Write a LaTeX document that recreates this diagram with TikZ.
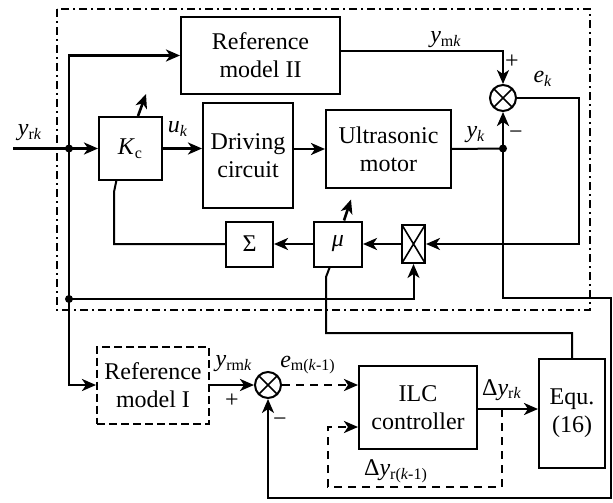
\documentclass[tikz,border=0pt]{standalone}
\usepackage{fontspec}
\setmainfont{Liberation Serif}
\usepackage{tikz}
\usetikzlibrary{positioning,arrows.meta,calc}

\newcommand{\sbs}[2]{\textit{#1}\textsubscript{#2}}

\begin{document}
\begin{tikzpicture}[x=0.5pt,y=-0.5pt,>={Stealth[length=7pt,width=6pt,inset=2pt]},
	font=\fontsize{12}{14}\selectfont,
	blk/.style={draw,line width=1pt,inner sep=0pt,align=center},
	dblk/.style={blk,dash pattern=on 4pt off 2pt},
	crossbox/.style={blk,path picture={\draw[line width=0.8pt]
		(path picture bounding box.north west)--(path picture bounding box.south east)
		(path picture bounding box.north east)--(path picture bounding box.south west);}},
	sumnode/.style={crossbox,circle,minimum size=13pt},
	wire/.style={line width=1.3pt},
	fb/.style={line width=1pt},
	lbl/.style={inner sep=0pt}]
		
		\useasboundingbox (0,0) rectangle (613,502);
		
		% Outer loop frame
		\draw[line width=0.8pt,dash pattern=on 4pt off 2pt on 1pt off 2pt] (57,9) rectangle (590,310);
		
		% Blocks
		\node[blk,minimum width=79.5pt,minimum height=38.5pt] (refII) at (260.5,55.5) {Reference\\model II};
		\node[blk,minimum width=31.5pt,minimum height=31.5pt] (kc) at (130.5,148.5) {\sbs{K}{c}};
		\node[blk,minimum width=45pt,minimum height=52.5pt] (drv) at (248,155.5) {Driving\\circuit};
		\node[blk,minimum width=62.5pt,minimum height=39pt] (usm) at (388.5,149) {Ultrasonic\\motor};
		\node[sumnode] (sum1) at (503,98) {};
		\node[blk,minimum width=23.5pt,minimum height=22.5pt] (sig) at (249.5,244) {Σ};
		\node[blk,minimum width=24pt,minimum height=22.5pt] (mu) at (338,244) {\textit{μ}};
		\node[crossbox,minimum width=11.5pt,minimum height=19pt] (xbox) at (413.5,244) {};
		\node[dblk,minimum width=56pt,minimum height=38.5pt] (refI) at (153,385) {Reference\\model I};
		\node[sumnode] (sum2) at (268,385) {};
		\node[blk,minimum width=59pt,minimum height=41.5pt] (ilc) at (418,407.5) {ILC\\controller};
		\node[blk,minimum width=33pt,minimum height=54.5pt] (equ) at (572,413.5) {Equ.\\(16)};
		
		% Points
		\coordinate (in) at (13,148.5);
		\coordinate (j1) at (69,148.5);
		\coordinate (j2) at (69,299);
		\coordinate (j3) at (503,148.5);
		\coordinate (ym) at (503,51);
		\coordinate (ek) at (579,244);
		\coordinate (kcin) at (114,192);
		\coordinate (kcend) at (116.5,180);
		\coordinate (c1) at (503,298);
		\coordinate (c2) at (611,498);
		\coordinate (dy) at (502,409);
		\coordinate (dyb) at (502,487);
		\coordinate (dyl) at (328,427);
		\coordinate (eq1) at (326,333);
		\coordinate (mutick) at (326,277);
		\coordinate (muend) at (330,266.5);
		
		% Forward path
		\draw[wire,->] (in) -- (kc.west);
		\draw[wire,->] (j1) |- (refII.west);
		\draw[wire] (j1) -- (j2);
		\draw[wire,->] (j2) |- (refI.west);
		\draw[fb,->] (j2) -| (xbox.south);
		\draw[wire,->] (kc.east) -- (kc.east -| drv.west);
		\draw[wire,->] (drv.east |- usm.west) -- (usm.west);
		\draw[fb] (usm.east) -- (j3);
		\draw[wire,->] (j3) -- (sum1.south);
		\draw[fb,->] (refII.east |- ym) -- (ym) -- (sum1.north);
		\fill (j1) circle (2pt);
		\fill (j2) circle (2pt);
		\fill (j3) circle (2pt);
		
		% Adaptation loop
		\draw[fb,->] (sum1.east) -| (ek) -- (xbox.east);
		\draw[wire,->] (xbox.west) -- (mu.east);
		\draw[wire,->] (mu.west) -- (sig.east);
		\draw[fb] (sig.west) -| (kcin) -- (kcend);
		\draw[wire,->] ($(kc.north)+(7.5,0)$) -- ++(8,-22);
		\draw[wire,->] ($(mu.north)+(6,0)$) -- ++(7,-21);
		
		% ILC part
		\draw[fb,->] (j3) -- (c1) -| (c2) -| (sum2.south);
		\draw[wire,->] (refI.east) -- (sum2.west);
		\draw[wire,dash pattern=on 4pt off 3pt,->] (sum2.east) -- (sum2.east -| ilc.west);
		\draw[wire,->] (ilc.east |- dy) -- (equ.west |- dy);
		\draw[wire,dash pattern=on 4pt off 3pt,->] (dy) -- (dyb) -| (dyl) -- (ilc.west |- dyl);
		\draw[fb] (equ.north) |- (eq1) -- (mutick) -- (muend);
		
		% Labels
		\node[lbl] (lyrk) at (30,133) {\sbs{y}{r\textit{k}}};
		\node[lbl] (luk) at (178,129) {\sbs{u}{\textit{k}}};
		\node[lbl] (lyk) at (476,135) {\sbs{y}{\textit{k}}};
		\node[lbl] (lymk) at (446,40) {\sbs{y}{m\textit{k}}};
		\node[lbl] (lek) at (543,79) {\sbs{e}{\textit{k}}};
		\node[lbl] (lp1) at (512,62) {+};
		\node[lbl] (lm1) at (516,135) {−};
		\node[lbl] (lyrmk) at (234,364) {\sbs{y}{rm\textit{k}}};
		\node[lbl] (lp2) at (232,401) {+};
		\node[lbl] (lm2) at (280,422) {−};
		\node[lbl] (lem) at (308,365) {\sbs{e}{m(\textit{k}-1)}};
		\node[lbl] (ldyrk) at (502,390) {Δ\sbs{y}{r\textit{k}}};
		\node[lbl] (ldyr) at (396,471) {Δ\sbs{y}{r(\textit{k}-1)}};
		
	\end{tikzpicture}
\end{document}
